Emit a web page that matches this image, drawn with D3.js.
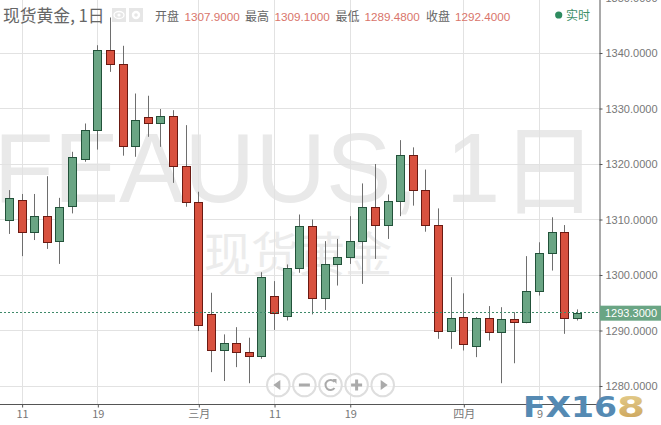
<!DOCTYPE html>
<html><head><meta charset="utf-8">
<script src="https://cdn.jsdelivr.net/npm/d3@7/dist/d3.min.js"></script>
<style>html,body{margin:0;padding:0;background:#fff;overflow:hidden}svg{display:block}
text{font-family:"Liberation Sans",Arial,sans-serif}.cjk{font-family:"Noto Sans CJK SC","Liberation Sans",sans-serif}</style>
</head><body><svg id="c" width="661" height="425"></svg>
<script>
// Daily index of each candle runs from 0 (left) to 45 (right)
const opens  = [1309.8,1313.5,1307.8,1310.6,1306.0,1312.3,1320.9,1326.0,1340.5,1338.0,1323.2,1328.4,1327.3,1328.6,1319.6,1313.1,1292.9,1286.4,1287.7,1286.1,1285.4,1296.2,1292.6,1301.2,1308.8,1295.8,1301.9,1303.2,1306.1,1312.2,1309.0,1313.3,1321.6,1315.3,1309.0,1289.9,1292.4,1287.2,1292.2,1289.7,1292.0,1291.7,1297.1,1303.9,1307.7,1292.2];
const highs  = [1315.3,1314.6,1314.6,1317.8,1313.9,1322.2,1327.3,1341.4,1346.4,1341.3,1332.7,1332.3,1329.9,1329.7,1327.0,1315.0,1296.8,1289.3,1290.6,1288.7,1300.5,1298.9,1301.9,1310.9,1310.0,1306.1,1306.5,1310.6,1316.5,1320.0,1314.5,1324.3,1323.0,1319.0,1312.0,1299.6,1296.7,1292.4,1294.4,1294.2,1293.3,1303.4,1305.9,1310.4,1309.0,1293.8];
const lows   = [1307.4,1303.4,1306.3,1304.7,1302.0,1311.1,1320.4,1322.6,1336.6,1321.5,1321.3,1324.9,1323.1,1316.6,1312.3,1289.9,1282.5,1280.9,1283.4,1280.5,1284.9,1290.1,1291.8,1300.4,1292.9,1293.7,1298.1,1302.0,1298.4,1302.9,1306.5,1310.6,1312.5,1307.8,1288.5,1286.7,1286.4,1285.2,1288.2,1280.5,1284.1,1291.3,1296.3,1300.8,1289.4,1291.8];
const closes = [1313.8,1307.8,1310.6,1306.0,1312.2,1321.2,1326.1,1340.5,1338.0,1323.2,1327.9,1327.3,1328.6,1319.6,1313.1,1291.0,1286.4,1287.7,1286.1,1285.4,1299.6,1293.1,1301.2,1308.8,1295.8,1301.9,1303.2,1306.1,1312.2,1309.0,1313.3,1321.6,1315.3,1309.0,1289.9,1292.2,1287.5,1292.2,1289.7,1292.0,1291.5,1297.2,1303.9,1307.7,1292.2,1293.1];
const priceTicks = [1280,1290,1300,1310,1320,1330,1340,1350];
const dateIndex  = [1,7,15,21,27,36,42];
const dateLabels = ["11","19","三月","11","19","四月","9"];
const lastPrice = 1293.3;
const title = "现货黄金, 1日";
const ohlcNames  = ["开盘","最高","最低","收盘"];
const ohlcValues = ["1307.9000","1309.1000","1289.4800","1292.4000"];
const navButtons = ["left","minus","reset","plus","right"];

const GREEN="#6aa584", GREEN_D="#22523a", RED="#d8513f", RED_D="#6b1a12";
const svg=d3.select("#c");
const x=d3.scaleLinear().domain([0,45]).range([9.5,577.4]);
const y=d3.scaleLinear().domain([1280,1340]).range([386,53]);
const px=v=>Math.floor(v)+0.5;

const defs=svg.append("defs");
const lg=defs.append("linearGradient").attr("id","gold").attr("x1",0).attr("x2",0).attr("y1",0).attr("y2",1);
lg.append("stop").attr("offset","0%").attr("stop-color","#e6d090");
lg.append("stop").attr("offset","100%").attr("stop-color","#c99f55");

// watermark
const wm=svg.append("text").attr("x",296).attr("y",202).attr("text-anchor","middle").attr("class","cjk")
  .style("font-family",'"Liberation Sans","Noto Sans CJK SC",sans-serif')
  .attr("font-size",98).attr("fill","#e9e9e9");
wm.append("tspan").text("FEAUUS, 1");
wm.append("tspan").attr("dy",4).text("日");
svg.append("text").attr("x",298).attr("y",271).attr("text-anchor","middle").attr("class","cjk")
  .attr("font-size",47).attr("fill","#ececec").text("现货黄金");

// grid
svg.append("g").selectAll("line").data(priceTicks).join("line")
  .attr("x1",0).attr("x2",599).attr("y1",d=>px(y(d))).attr("y2",d=>px(y(d))).attr("stroke","#e2e2e2");
svg.append("g").selectAll("line").data(dateIndex).join("line")
  .attr("y1",0).attr("y2",404).attr("x1",d=>px(x(d))).attr("x2",d=>px(x(d))).attr("stroke","#e2e2e2");

// candles
const idx=d3.range(opens.length);
const g=svg.append("g");
g.selectAll("line").data(idx).join("line")
  .attr("x1",i=>px(x(i))).attr("x2",i=>px(x(i)))
  .attr("y1",i=>y(highs[i])).attr("y2",i=>y(lows[i])).attr("stroke","#6e6e6e");
g.selectAll("rect").data(idx).join("rect")
  .attr("x",i=>px(x(i))-4).attr("width",8)
  .attr("y",i=>Math.round(y(Math.max(opens[i],closes[i])))+.5)
  .attr("height",i=>Math.max(1,Math.round(Math.abs(y(opens[i])-y(closes[i])))))
  .attr("fill",i=>closes[i]>=opens[i]?GREEN:RED)
  .attr("stroke",i=>closes[i]>=opens[i]?GREEN_D:RED_D);

// last price line
svg.append("line").attr("x1",0).attr("x2",600).attr("y1",px(y(lastPrice))).attr("y2",px(y(lastPrice)))
  .attr("stroke","#3f8a6a").attr("stroke-dasharray","2,2");

// axes
const yAxis=d3.axisRight(y).tickValues(priceTicks).tickFormat(d3.format(".4f")).tickSize(3).tickPadding(3);
const ya=svg.append("g").attr("transform","translate(599.5,0)").call(yAxis);
const xAxis=d3.axisBottom(x).tickValues(dateIndex).tickFormat((d,i)=>dateLabels[i]).tickSize(3).tickPadding(3);
const xa=svg.append("g").attr("transform","translate(0,404.5)").call(xAxis);
ya.select(".domain").attr("d","M0.5,0V405").attr("stroke","#555");
xa.select(".domain").attr("d","M0,0H600").attr("stroke","#555");
ya.selectAll(".tick line").attr("stroke","#555");
xa.selectAll(".tick line").attr("stroke","#555");
ya.selectAll("text").style("font-size","11px").attr("fill","#777");
xa.selectAll("text").style("font-size","11px").attr("fill","#777").attr("class","cjk");

// last price tag
svg.append("rect").attr("x",600).attr("width",61).attr("y",y(lastPrice)-6.5).attr("height",15).attr("fill",GREEN);
svg.append("text").attr("x",605).attr("y",y(lastPrice)+5).style("font-size","11px").attr("fill","#fff")
  .text(d3.format(".4f")(lastPrice));

// header
svg.append("text").attr("x",3).attr("y",22).attr("class","cjk").attr("font-size",16.8).attr("fill","#666").text(title);
const hdrLab=[155,245,335.5,426], hdrVal=[184.5,274.5,364.5,455];
ohlcNames.forEach((n,i)=>{
  svg.append("text").attr("x",hdrLab[i]).attr("y",21).attr("class","cjk").attr("font-size",12).attr("fill","#666").text(n);
  svg.append("text").attr("x",hdrVal[i]).attr("y",21).style("font-size","11.7px").attr("fill","#d9756b").text(ohlcValues[i]);
});
// eye + gear icons
[112,129].forEach(v=>svg.append("rect").attr("x",v).attr("y",8).attr("width",14).attr("height",14).attr("fill","#e6e6e6"));
svg.append("ellipse").attr("cx",119).attr("cy",15).attr("rx",5).attr("ry",3.5).attr("fill","none").attr("stroke","#fff").attr("stroke-width",1.3);
svg.append("circle").attr("cx",119).attr("cy",15).attr("r",1.6).attr("fill","#fff");
svg.append("circle").attr("cx",136).attr("cy",15).attr("r",3).attr("fill","none").attr("stroke","#fff").attr("stroke-width",2.4);
// realtime
svg.append("circle").attr("cx",558.7).attr("cy",15).attr("r",3.6).attr("fill","#2e8b5f");
svg.append("text").attr("x",566).attr("y",20).attr("class","cjk").attr("font-size",12).attr("fill","#3c8f68").text("实时");

// nav buttons
const nav=svg.append("g").selectAll("g").data(navButtons).join("g")
  .attr("transform",(d,i)=>`translate(${278.3+i*26.1},385)`);
nav.append("circle").attr("r",11.3).attr("fill","#fff").attr("fill-opacity",.6).attr("stroke","#dedede").attr("stroke-width",2);
nav.each(function(d){
  const s=d3.select(this);
  if(d==="left") s.append("path").attr("d","M-5,0L2,-5V5Z").attr("fill","#aaa");
  if(d==="right") s.append("path").attr("d","M5,0L-2,-5V5Z").attr("fill","#aaa");
  if(d==="minus") s.append("rect").attr("x",-5.5).attr("y",-1.5).attr("width",11).attr("height",3).attr("fill","#aaa");
  if(d==="plus"){ s.append("rect").attr("x",-5.5).attr("y",-1.5).attr("width",11).attr("height",3).attr("fill","#aaa");
    s.append("rect").attr("x",-1.5).attr("y",-5.5).attr("width",3).attr("height",11).attr("fill","#aaa");}
  if(d==="reset"){ s.append("path").attr("d","M4,-3A5,5 0 1 0 4,3").attr("fill","none").attr("stroke","#aaa").attr("stroke-width",2);
    s.append("path").attr("d","M2,-6L6,-6L6,-1Z").attr("fill","#aaa");}
});

// logo
svg.append("text").attr("x",523).attr("y",417).style("font-family",'"DejaVu Sans",sans-serif').style("font-weight","bold")
  .attr("font-size",28).attr("textLength",94).attr("lengthAdjust","spacingAndGlyphs").attr("fill","#558ab3").text("FX16");
svg.append("text").attr("x",617).attr("y",417).style("font-family",'"DejaVu Sans",sans-serif').style("font-weight","bold")
  .attr("font-size",28).attr("textLength",28).attr("lengthAdjust","spacingAndGlyphs").attr("fill","url(#gold)").text("8");
</script></body></html>
